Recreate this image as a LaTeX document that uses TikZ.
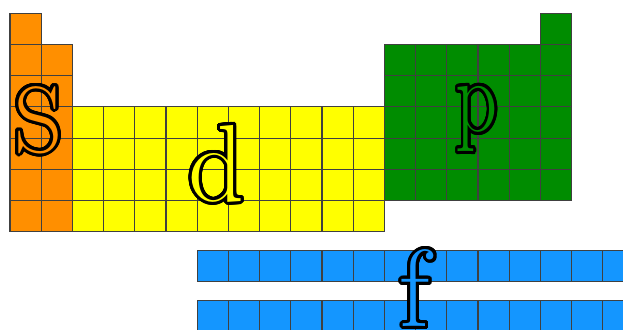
\documentclass[tikz,border=0pt]{standalone}
\usepackage{contour}
\contourlength{1.4pt}
\contournumber{32}
\definecolor{sblock}{RGB}{255,143,0}
\definecolor{dblock}{RGB}{255,255,0}
\definecolor{pblock}{RGB}{0,140,0}
\definecolor{fblock}{RGB}{20,150,255}

\begin{document}
\begin{tikzpicture}[
  x=0.5cm, y=-0.5cm,
  cell/.style={draw=black!75, line width=0.5pt},
  letter/.style={anchor=base, inner sep=0pt, font=\fontsize{50}{50}\selectfont}
  ]
  \useasboundingbox (-0.32,-0.426) rectangle (19.647,10.119);
  \clip (-0.32,-0.426) rectangle (19.647,10.119);

  % s block
  \foreach \r in {0,...,6} \draw[cell, fill=sblock] (0,\r) rectangle ++(1,1);
  \foreach \r in {1,...,6} \draw[cell, fill=sblock] (1,\r) rectangle ++(1,1);
  % d block
  \foreach \c in {2,...,11}
    \foreach \r in {3,...,6} \draw[cell, fill=dblock] (\c,\r) rectangle ++(1,1);
  % p block
  \draw[cell, fill=pblock] (17,0) rectangle ++(1,1);
  \foreach \c in {12,...,17}
    \foreach \r in {1,...,5} \draw[cell, fill=pblock] (\c,\r) rectangle ++(1,1);
  % f block
  \foreach \c in {6,...,19}
    \foreach \r in {7.6,9.2} \draw[cell, fill=fblock] (\c,\r) rectangle ++(1,1);

  \node[letter, text=sblock, font=\fontsize{43}{43}\selectfont] (s) at (0.91,4.45) {\contour{black}{S}};
  \node[letter, text=dblock] (d) at (6.62,6.02) {\contour{black}{d}};
  \node[letter, text=pblock, font=\fontsize{47}{47}\selectfont, xscale=0.8, transform shape] (p) at (14.96,3.79) {\contour{black}{p}};
  \node[letter, text=fblock] (f) at (12.98,10.04) {\contour{black}{f}};
\end{tikzpicture}
\end{document}
